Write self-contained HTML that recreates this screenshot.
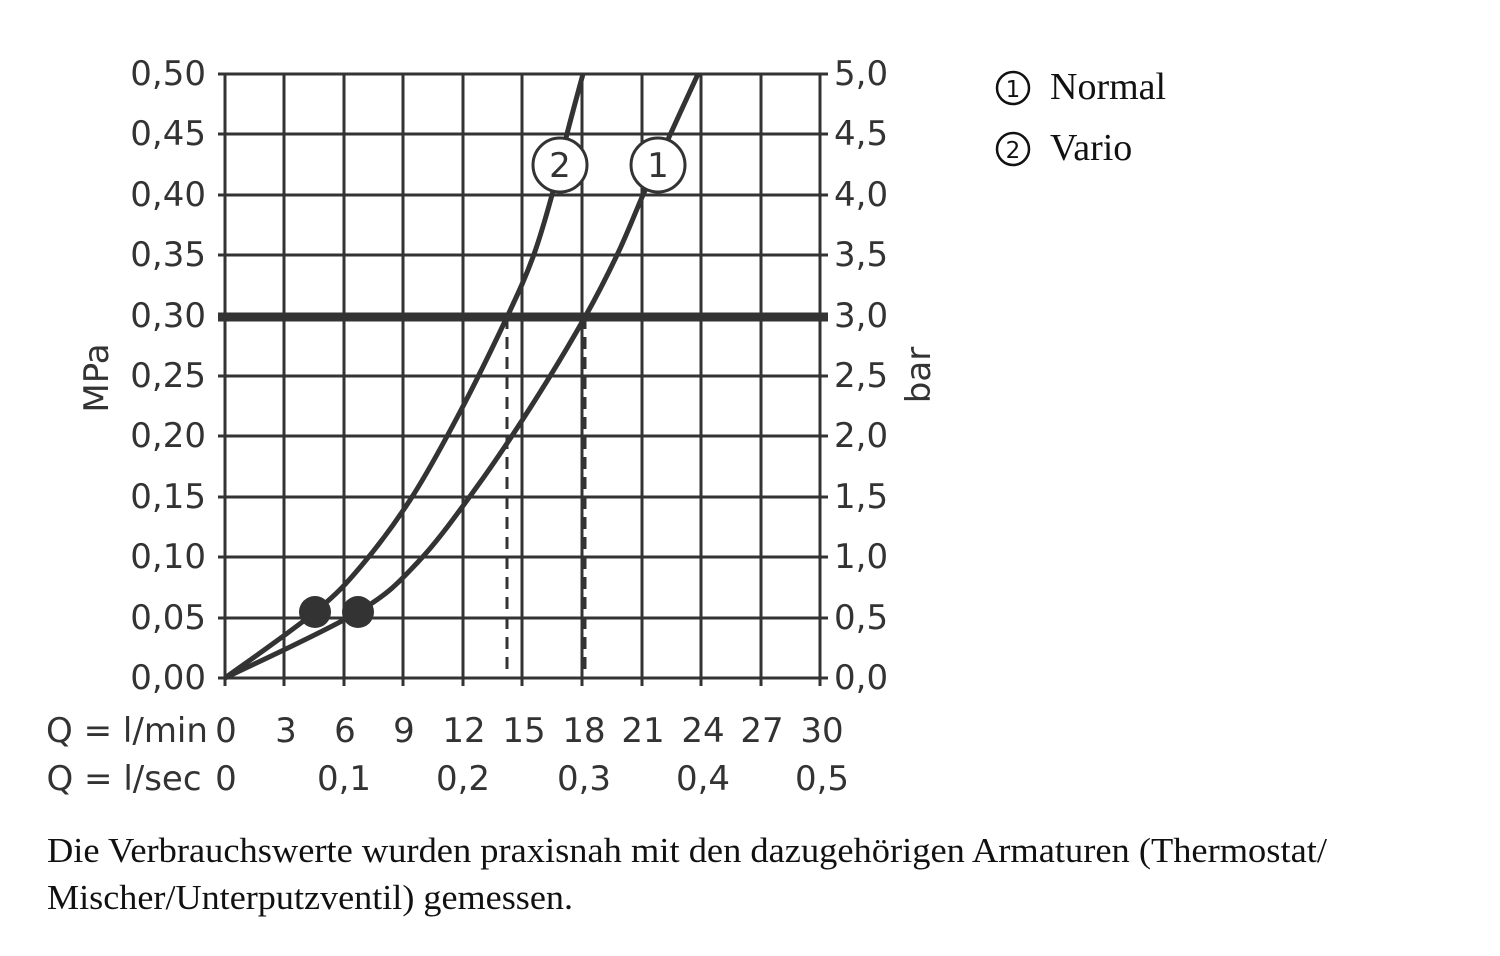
<!DOCTYPE html>
<html><head><meta charset="utf-8"><style>
body{margin:0;background:#fff;width:1500px;height:956px;overflow:hidden}
svg{display:block}
.s{font-family:"DejaVu Sans","Liberation Sans",sans-serif;font-size:34px;fill:#333}
.r{font-family:"Liberation Serif",serif;fill:#111}
</style></head><body>
<svg width="1500" height="956" viewBox="0 0 1500 956">
<g stroke="#333" stroke-width="3" fill="none">
<path d="M284,74V678M344,74V678M403,74V678M463,74V678M522,74V678M582,74V678M642,74V678M701,74V678M761,74V678"/>
<path d="M218,74H828M218,134H828M218,195H828M218,255H828M218,376H828M218,436H828M218,497H828M218,557H828M218,618H828M218,678H828"/>
<path d="M225,74V686M820,74V686"/>
<path d="M225,678v8M284,678v8M344,678v8M403,678v8M463,678v8M522,678v8M582,678v8M642,678v8M701,678v8M761,678v8"/>
</g>
<path d="M218,317H828" stroke="#333" stroke-width="9"/>
<path d="M507,317V678M585,317V678" stroke="#333" stroke-width="3" stroke-dasharray="12,8"/>
<g stroke="#333" stroke-width="5" fill="none" stroke-linejoin="round">
<path id="c2" d=""/>
<path id="c1" d=""/>
</g>
<circle cx="315" cy="612" r="16" fill="#333"/><circle cx="358" cy="612" r="16" fill="#333"/>
<g stroke="#333" stroke-width="3" fill="#fff"><circle cx="560" cy="165" r="27"/><circle cx="658" cy="165" r="27"/></g>
<text class="s" x="560" y="177" text-anchor="middle">2</text>
<text class="s" x="658" y="177" text-anchor="middle">1</text>
<g class="s" text-anchor="end">
<text x="206" y="85">0,50</text><text x="206" y="145">0,45</text><text x="206" y="206">0,40</text><text x="206" y="266">0,35</text><text x="206" y="327">0,30</text><text x="206" y="387">0,25</text><text x="206" y="447">0,20</text><text x="206" y="508">0,15</text><text x="206" y="568">0,10</text><text x="206" y="629">0,05</text><text x="206" y="689">0,00</text>
</g>
<g class="s">
<text x="834" y="85">5,0</text><text x="834" y="145">4,5</text><text x="834" y="206">4,0</text><text x="834" y="266">3,5</text><text x="834" y="327">3,0</text><text x="834" y="387">2,5</text><text x="834" y="447">2,0</text><text x="834" y="508">1,5</text><text x="834" y="568">1,0</text><text x="834" y="629">0,5</text><text x="834" y="689">0,0</text>
</g>
<text class="s" transform="translate(108,378) rotate(-90)" text-anchor="middle">MPa</text>
<text class="s" transform="translate(930,375) rotate(-90)" text-anchor="middle">bar</text>
<g class="s" text-anchor="middle">
<text x="127" y="742">Q = l/min</text>
<text x="226" y="742">0</text><text x="286" y="742">3</text><text x="345" y="742">6</text><text x="404" y="742">9</text><text x="464" y="742">12</text><text x="524" y="742">15</text><text x="584" y="742">18</text><text x="643" y="742">21</text><text x="703" y="742">24</text><text x="762" y="742">27</text><text x="822" y="742">30</text>
<text x="124" y="790">Q = l/sec</text>
<text x="226" y="790">0</text><text x="344" y="790">0,1</text><text x="463" y="790">0,2</text><text x="584" y="790">0,3</text><text x="703" y="790">0,4</text><text x="822" y="790">0,5</text>
</g>
<g stroke="#111" stroke-width="2.5" fill="none"><circle cx="1013" cy="88" r="16"/><circle cx="1013" cy="149" r="16"/></g>
<text x="1013" y="97" font-family="DejaVu Sans,sans-serif" font-size="23" text-anchor="middle" fill="#111">1</text>
<text x="1013" y="158" font-family="DejaVu Sans,sans-serif" font-size="23" text-anchor="middle" fill="#111">2</text>
<text class="r" x="1050" y="99" font-size="38">Normal</text>
<text class="r" x="1050" y="160" font-size="38">Vario</text>
<text class="r" x="47" y="862" font-size="35" textLength="1280" lengthAdjust="spacingAndGlyphs">Die Verbrauchswerte wurden praxisnah mit den dazugehörigen Armaturen (Thermostat/</text>
<text class="r" x="47" y="909" font-size="35" textLength="526" lengthAdjust="spacingAndGlyphs">Mischer/Unterputzventil) gemessen.</text>
</svg>
<script>
function cr(p){var d="M"+p[0][0]+","+p[0][1];for(var i=0;i<p.length-1;i++){var a=p[i-1]||p[i],b=p[i],c=p[i+1],e=p[i+2]||c;d+=" C"+(b[0]+(c[0]-a[0])/6)+","+(b[1]+(c[1]-a[1])/6)+" "+(c[0]-(e[0]-b[0])/6)+","+(c[1]-(e[1]-b[1])/6)+" "+c[0]+","+c[1];}return d;}
document.getElementById("c2").setAttribute("d",cr([[225,678],[315,612],[362,565],[412,497],[460,412],[507,317],[533,257],[552,195],[568,130],[583,74]]));
document.getElementById("c1").setAttribute("d",cr([[225,678],[358,612],[418,562],[476,488],[532,405],[585,317],[618,253],[643,195],[670,135],[698,74]]));
</script>
</body></html>
